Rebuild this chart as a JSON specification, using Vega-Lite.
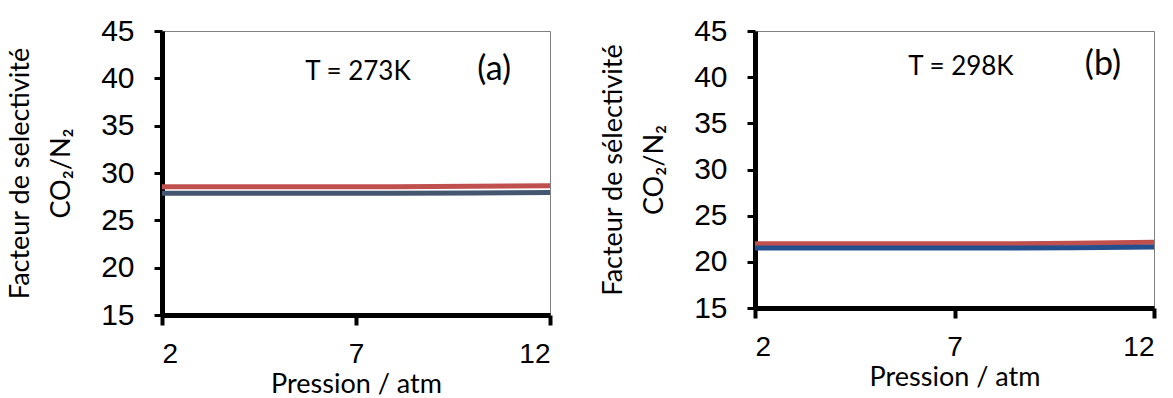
{
  "$schema": "https://vega.github.io/schema/vega-lite/v6.json",
  "background": "white",
  "padding": {"left": 6, "top": 15, "right": 5, "bottom": 0},
  "bounds": "flush",
  "spacing": 205,
  "config": {
    "view": {"stroke": "#808080", "strokeWidth": 1},
    "axis": {
      "grid": false,
      "domainColor": "black",
      "tickColor": "black",
      "labelColor": "black",
      "titleColor": "black",
      "labelFont": "Liberation Sans",
      "labelFontSize": 30,
      "titleFont": "Lato",
      "titleFontSize": 27,
      "titleFontWeight": "normal"
    }
  },
  "datasets": {
    "a": [
      {"s": "r", "p": 2, "v": 28.55}, {"s": "r", "p": 4, "v": 28.55}, {"s": "r", "p": 6, "v": 28.55}, {"s": "r", "p": 8, "v": 28.55}, {"s": "r", "p": 10, "v": 28.6}, {"s": "r", "p": 12, "v": 28.65},
      {"s": "b", "p": 2, "v": 27.85}, {"s": "b", "p": 4, "v": 27.85}, {"s": "b", "p": 6, "v": 27.85}, {"s": "b", "p": 8, "v": 27.85}, {"s": "b", "p": 10, "v": 27.9}, {"s": "b", "p": 12, "v": 27.95}
    ],
    "b": [
      {"s": "r", "p": 2, "v": 21.95}, {"s": "r", "p": 4, "v": 21.95}, {"s": "r", "p": 6, "v": 21.95}, {"s": "r", "p": 8, "v": 21.95}, {"s": "r", "p": 10, "v": 22.0}, {"s": "r", "p": 12, "v": 22.12},
      {"s": "b", "p": 2, "v": 21.5}, {"s": "b", "p": 4, "v": 21.5}, {"s": "b", "p": 6, "v": 21.5}, {"s": "b", "p": 8, "v": 21.5}, {"s": "b", "p": 10, "v": 21.52}, {"s": "b", "p": 12, "v": 21.6}
    ],
    "la": [
      {"t": "T = 273K", "p": 7.05, "v": 39.8, "sz": 26},
      {"t": "(a)", "p": 10.56, "v": 39.8, "sz": 34}
    ],
    "lb": [
      {"t": "T = 298K", "p": 7.16, "v": 40.2, "sz": 26},
      {"t": "(b)", "p": 10.72, "v": 40.2, "sz": 34}
    ]
  },
  "hconcat": [
    {
      "width": 388,
      "height": 284,
      "encoding": {
        "x": {"field": "p", "type": "quantitative", "scale": {"domain": [2, 12], "nice": false}, "axis": {"values": [2, 7, 12], "title": "Pression / atm", "domainWidth": 5, "tickWidth": 4, "tickSize": 10, "labelFontSize": 28, "labelPadding": 15, "titlePadding": 3}},
        "y": {"field": "v", "type": "quantitative", "scale": {"domain": [15, 45], "nice": false}, "axis": {"values": [15, 20, 25, 30, 35, 40, 45], "title": ["Facteur de selectivité", "CO₂/N₂"], "titleLineHeight": 41, "domainWidth": 5, "tickWidth": 3, "tickSize": 8, "labelPadding": 20, "titlePadding": 25}}
      },
      "layer": [
        {"data": {"name": "a"}, "transform": [{"filter": "datum.s == 'r'"}], "mark": {"type": "line", "strokeWidth": 5, "color": "#C0504D"}},
        {"data": {"name": "a"}, "transform": [{"filter": "datum.s == 'b'"}], "mark": {"type": "line", "strokeWidth": 5, "color": "#455770"}},
        {"data": {"name": "la"}, "mark": {"type": "text", "font": "Lato", "baseline": "alphabetic", "align": "center", "color": "black"}, "encoding": {"text": {"field": "t"}, "size": {"field": "sz", "type": "quantitative", "scale": null}}}
      ]
    },
    {
      "width": 399,
      "height": 277,
      "encoding": {
        "x": {"field": "p", "type": "quantitative", "scale": {"domain": [2, 12], "nice": false}, "axis": {"values": [2, 7, 12], "title": "Pression / atm", "domainWidth": 5, "tickWidth": 4, "tickSize": 10, "labelFontSize": 28, "labelPadding": 15, "titlePadding": 3}},
        "y": {"field": "v", "type": "quantitative", "scale": {"domain": [15, 45], "nice": false}, "axis": {"values": [15, 20, 25, 30, 35, 40, 45], "title": ["Facteur de sélectivité", "CO₂/N₂"], "titleLineHeight": 41, "domainWidth": 5, "tickWidth": 3, "tickSize": 8, "labelPadding": 20, "titlePadding": 25}}
      },
      "layer": [
        {"data": {"name": "b"}, "transform": [{"filter": "datum.s == 'r'"}], "mark": {"type": "line", "strokeWidth": 5, "color": "#C0504D"}},
        {"data": {"name": "b"}, "transform": [{"filter": "datum.s == 'b'"}], "mark": {"type": "line", "strokeWidth": 5, "color": "#245090"}},
        {"data": {"name": "lb"}, "mark": {"type": "text", "font": "Lato", "baseline": "alphabetic", "align": "center", "color": "black"}, "encoding": {"text": {"field": "t"}, "size": {"field": "sz", "type": "quantitative", "scale": null}}}
      ]
    }
  ]
}
